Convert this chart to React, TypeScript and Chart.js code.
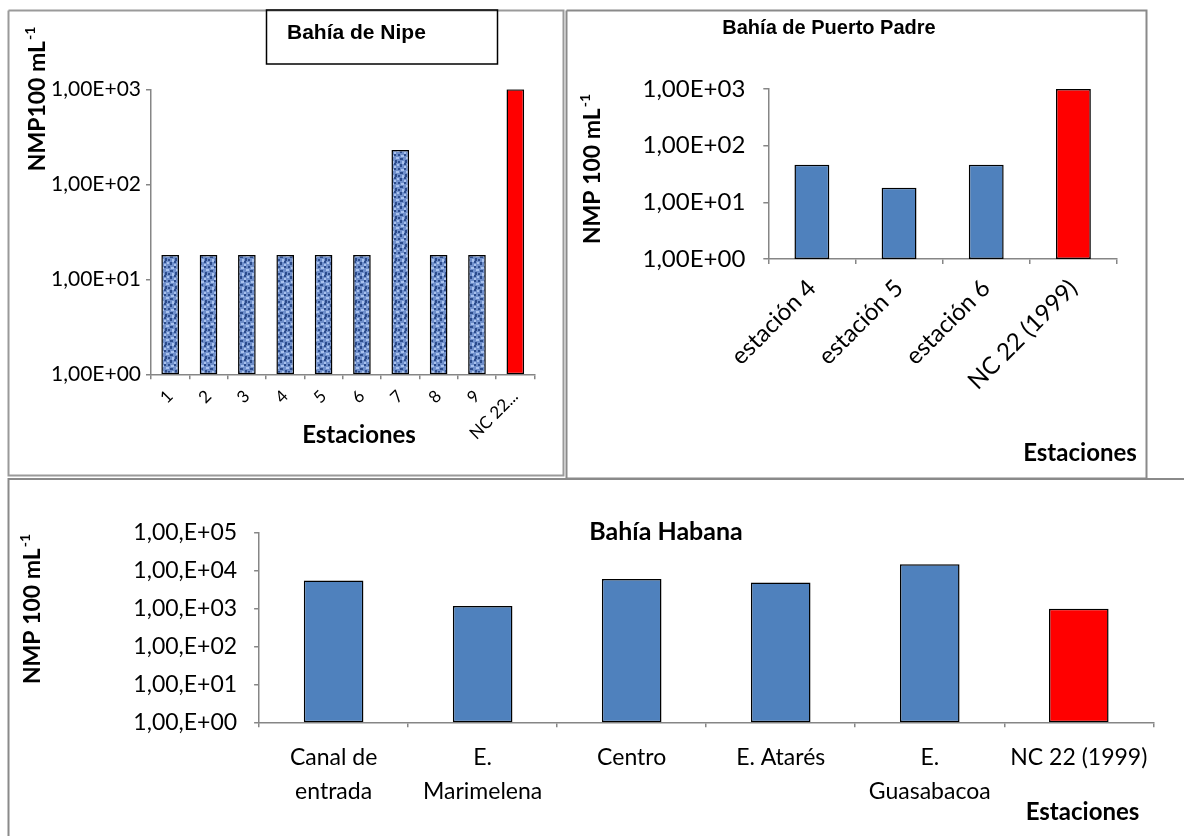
import React, { useEffect, useRef } from "react";
import { Chart, registerables } from "chart.js";

Chart.register(...registerables);

// ---- Bahía de Nipe ----
const nipeStations = ["1", "2", "3", "4", "5", "6", "7", "8", "9", "NC 22 (1999)"];
const nipeValues = [18, 18, 18, 18, 18, 18, 230, 18, 18, 1000];
const nipeTicks = [1, 10, 100, 1000];
const nipeTickLabels = ["1,00E+00", "1,00E+01", "1,00E+02", "1,00E+03"];

// ---- Bahía de Puerto Padre ----
const padreStations = ["estación 4", "estación 5", "estación 6", "NC 22 (1999)"];
const padreValues = [46, 18, 46, 1000];
const padreTicks = [1, 10, 100, 1000];
const padreTickLabels = ["1,00E+00", "1,00E+01", "1,00E+02", "1,00E+03"];

// ---- Bahía Habana ----
const habanaStations: (string | string[])[] = [
  ["Canal de", "entrada"],
  ["E.", "Marimelena"],
  "Centro",
  "E. Atarés",
  ["E.", "Guasabacoa"],
  "NC 22 (1999)",
];
const habanaValues = [5600, 1180, 6100, 4900, 15000, 1000];
const habanaTicks = [1, 10, 100, 1000, 10000, 100000];
const habanaTickLabels = ["1,00,E+00", "1,00,E+01", "1,00,E+02", "1,00,E+03", "1,00,E+04", "1,00,E+05"];

const FONT = "Lato, 'DejaVu Sans', sans-serif";
const TITLE_FONT = "'Liberation Sans', Arial, sans-serif";
const AXIS = "#868686";
const BLUE = "#4f81bd";
const RED = "#ff0000";
const FRAME = "#9a9a9a";

Chart.defaults.font.family = FONT;
Chart.defaults.color = "#000";

const isNorm = (s: string | string[]) => (Array.isArray(s) ? s.join(" ") : s).startsWith("NC");

// Mottled blue fill used for the Nipe stations
function mottledBlue(): CanvasPattern | string {
  const c = document.createElement("canvas");
  c.width = 10;
  c.height = 14;
  const g = c.getContext("2d");
  if (!g) return BLUE;
  g.fillStyle = "#6f8fcb";
  g.fillRect(0, 0, 10, 14);
  const light: [number, number, number, number][] = [
    [1, 1, 3, 2], [6, 3, 3, 2], [2, 7, 2, 3], [7, 10, 2, 2], [4, 12, 2, 2],
  ];
  const dark: [number, number, number, number][] = [
    [4, 0, 2, 2], [0, 4, 3, 2], [5, 6, 2, 3], [0, 10, 2, 3], [8, 7, 2, 2], [4, 9, 2, 2], [8, 0, 2, 2],
  ];
  g.fillStyle = "#a9c2ee";
  light.forEach(([x, y, w, h]) => g.fillRect(x, y, w, h));
  g.fillStyle = "#2c4c8c";
  dark.forEach(([x, y, w, h]) => g.fillRect(x, y, w, h));
  return g.createPattern(c, "repeat") ?? BLUE;
}

type Caption = {
  text: string;
  sup?: string;
  x: number;
  y: number;
  size: number;
  family?: string;
  vertical?: boolean;
  align?: "left" | "center";
};
type Box = { x0: number; y0: number; x1: number; y1: number; color: string; width: number };
type Path = { pts: [number, number][]; color: string; width: number };

function drawCaption(ctx: CanvasRenderingContext2D, c: Caption) {
  const fam = c.family ?? FONT;
  const main = `bold ${c.size}px ${fam}`;
  const supFont = `bold ${Math.round(c.size * 0.6)}px ${fam}`;
  ctx.save();
  ctx.translate(c.x, c.y);
  if (c.vertical) ctx.rotate(-Math.PI / 2);
  ctx.fillStyle = "#000";
  ctx.textBaseline = "middle";
  ctx.textAlign = "left";
  ctx.font = main;
  const w1 = ctx.measureText(c.text).width;
  ctx.font = supFont;
  const w2 = c.sup ? ctx.measureText(c.sup).width + 1 : 0;
  const start = c.align === "left" ? 0 : -(w1 + w2) / 2;
  ctx.font = main;
  ctx.fillText(c.text, start, 0);
  if (c.sup) {
    ctx.font = supFont;
    ctx.fillText(c.sup, start + w1 + 1, -c.size * 0.32);
  }
  ctx.restore();
}

// Panel frame, chart titles and axis titles, given in page coordinates
function panelDecor(origin: [number, number], frames: Path[], captions: Caption[], boxes: Box[] = []) {
  return {
    id: "panelDecor",
    beforeDraw(chart: Chart) {
      const ctx = chart.ctx;
      ctx.save();
      ctx.translate(-origin[0], -origin[1]);
      for (const f of frames) {
        ctx.strokeStyle = f.color;
        ctx.lineWidth = f.width;
        ctx.beginPath();
        f.pts.forEach(([x, y], i) => (i ? ctx.lineTo(x, y) : ctx.moveTo(x, y)));
        ctx.stroke();
      }
      ctx.restore();
    },
    afterDraw(chart: Chart) {
      const ctx = chart.ctx;
      ctx.save();
      ctx.translate(-origin[0], -origin[1]);
      for (const b of boxes) {
        ctx.strokeStyle = b.color;
        ctx.lineWidth = b.width;
        ctx.strokeRect(b.x0, b.y0, b.x1 - b.x0, b.y1 - b.y0);
      }
      captions.forEach((c) => drawCaption(ctx, c));
      ctx.restore();
    },
  };
}

function rect(x0: number, y0: number, x1: number, y1: number): [number, number][] {
  return [[x0, y0], [x1, y0], [x1, y1], [x0, y1], [x0, y0]];
}

function logAxis(ticks: number[], labels: string[], size: number, width: number, padding: number) {
  return {
    type: "logarithmic" as const,
    min: ticks[0],
    max: ticks[ticks.length - 1],
    afterBuildTicks: (s: any) => {
      s.ticks = ticks.map((v) => ({ value: v }));
    },
    afterFit: (s: any) => {
      s.width = width;
    },
    ticks: {
      autoSkip: false,
      padding,
      color: "#000",
      font: { size, family: FONT },
      callback: (v: any) => labels[ticks.indexOf(Number(v))] ?? "",
    },
    grid: { drawOnChartArea: false, drawTicks: true, tickLength: 5, color: AXIS, lineWidth: 1.5 },
    border: { display: true, color: AXIS, width: 1.5 },
  };
}

function stationAxis(height: number, size: number, rotation: number, padding: number, lineHeight = 1.2, callback?: any) {
  return {
    type: "category" as const,
    afterFit: (s: any) => {
      s.height = height;
    },
    ticks: {
      autoSkip: false,
      minRotation: rotation,
      maxRotation: rotation,
      padding,
      color: "#000",
      font: { size, family: FONT, lineHeight },
      ...(callback ? { callback } : {}),
    },
    grid: { offset: true, drawOnChartArea: false, drawTicks: true, tickLength: 5, color: AXIS, lineWidth: 1.5 },
    border: { display: true, color: AXIS, width: 1.5 },
  };
}

function baseOptions(padding: { left: number; top: number; right: number; bottom: number }, scales: any) {
  return {
    animation: false as const,
    responsive: false,
    devicePixelRatio: 1,
    events: [],
    layout: { padding },
    plugins: { legend: { display: false }, tooltip: { enabled: false }, title: { display: false } },
    scales,
  };
}

function nipeChart(canvas: HTMLCanvasElement) {
  const texture = mottledBlue();
  const origin: [number, number] = [0, 0];
  const W = canvas.width;
  const H = canvas.height;
  // plot area: x 151..534.5, y 89.3..374.3 (page)
  const padding = { left: 10, top: 89.3, right: W - 534.5, bottom: H - 374.3 - 92 };
  return new Chart(canvas, {
    type: "bar",
    data: {
      labels: nipeStations,
      datasets: [
        {
          data: nipeValues,
          backgroundColor: nipeStations.map((s) => (isNorm(s) ? RED : texture)) as any,
          borderColor: "#000",
          borderWidth: 1.5,
          borderSkipped: false,
          barPercentage: 0.46,
          categoryPercentage: 1,
        },
      ],
    },
    options: baseOptions(padding, {
      x: stationAxis(92, 17, 45, 7, 1.2, (_v: any, i: number) => {
        const s = nipeStations[i];
        return s.length > 6 ? s.slice(0, 5) + "..." : s;
      }),
      y: logAxis(nipeTicks, nipeTickLabels, 21, 141, 5),
    }) as any,
    plugins: [
      panelDecor(
        origin,
        [{ pts: rect(8.5, 10.5, 563.5, 475.5), color: FRAME, width: 2 }],
        [
          { text: "Bahía de Nipe", x: 287, y: 33.5, size: 21, family: TITLE_FONT, align: "left" },
          { text: "NMP100 mL", sup: "-1", x: 38, y: 99, size: 23, vertical: true },
          { text: "Estaciones", x: 359, y: 435, size: 24 },
        ],
        [{ x0: 266.5, y0: 10, x1: 497.5, y1: 64, color: "#000", width: 1.5 }]
      ) as any,
    ],
  });
}

function padreChart(canvas: HTMLCanvasElement) {
  const origin: [number, number] = [565, 0];
  const W = canvas.width;
  const H = canvas.height;
  // plot area: x 768.3..1117, y 89..259 (page)
  const padding = { left: 10, top: 89, right: W - (1117 - 565), bottom: H - 259 - 180 };
  return new Chart(canvas, {
    type: "bar",
    data: {
      labels: padreStations,
      datasets: [
        {
          data: padreValues,
          backgroundColor: padreStations.map((s) => (isNorm(s) ? RED : BLUE)),
          borderColor: "#000",
          borderWidth: 1.5,
          borderSkipped: false,
          barPercentage: 0.4,
          categoryPercentage: 1,
        },
      ],
    },
    options: baseOptions(padding, {
      x: stationAxis(180, 24, 45, 10),
      y: logAxis(padreTicks, padreTickLabels, 24, 768.3 - 565 - 10, 18),
    }) as any,
    plugins: [
      panelDecor(
        origin,
        [{ pts: rect(566.5, 10.5, 1146.5, 478.5), color: "#8a8a8a", width: 2 }],
        [
          { text: "Bahía de Puerto Padre", x: 829, y: 28.5, size: 20, family: TITLE_FONT },
          { text: "NMP 100 mL", sup: "-1", x: 592.5, y: 169, size: 23, vertical: true },
          { text: "Estaciones", x: 1080, y: 453.5, size: 24 },
        ]
      ) as any,
    ],
  });
}

function habanaChart(canvas: HTMLCanvasElement) {
  const origin: [number, number] = [0, 478];
  const W = canvas.width;
  const H = canvas.height;
  // plot area: x 259.1..1153.3, y 533..722.3 (page)
  const padding = { left: 10, top: 533 - 478, right: W - 1153.3, bottom: H - (722.3 - 478) - 100 };
  return new Chart(canvas, {
    type: "bar",
    data: {
      labels: habanaStations as any,
      datasets: [
        {
          data: habanaValues,
          backgroundColor: habanaStations.map((s) => (isNorm(s) ? RED : BLUE)),
          borderColor: "#000",
          borderWidth: 1.5,
          borderSkipped: false,
          barPercentage: 0.4,
          categoryPercentage: 1,
        },
      ],
    },
    options: baseOptions(padding, {
      x: stationAxis(100, 23, 0, 14, 1.45),
      y: logAxis(habanaTicks, habanaTickLabels, 23, 259.1 - 10, 17),
    }) as any,
    plugins: [
      panelDecor(
        origin,
        [{ pts: [[1184, 479], [8.5, 479], [8.5, 836]], color: "#8a8a8a", width: 2 }],
        [
          { text: "Bahía Habana", x: 666, y: 532, size: 25 },
          { text: "NMP 100 mL", sup: "-1", x: 32.5, y: 609, size: 23, vertical: true },
          { text: "Estaciones", x: 1082.5, y: 812, size: 24 },
        ]
      ) as any,
    ],
  });
}

export default function App() {
  const nipeRef = useRef<HTMLCanvasElement>(null);
  const padreRef = useRef<HTMLCanvasElement>(null);
  const habanaRef = useRef<HTMLCanvasElement>(null);

  useEffect(() => {
    const charts: Chart[] = [];
    if (habanaRef.current) charts.push(habanaChart(habanaRef.current));
    if (padreRef.current) charts.push(padreChart(padreRef.current));
    if (nipeRef.current) charts.push(nipeChart(nipeRef.current));
    return () => charts.forEach((c) => c.destroy());
  }, []);

  const abs = (left: number, top: number): React.CSSProperties => ({ position: "absolute", left, top });

  return (
    <div style={{ position: "absolute", left: 0, top: 0, width: 1184, height: 836, background: "#fff", overflow: "hidden" }}>
      <canvas ref={habanaRef} width={1184} height={358} style={abs(0, 478)} />
      <canvas ref={padreRef} width={619} height={484} style={abs(565, 0)} />
      <canvas ref={nipeRef} width={566} height={480} style={abs(0, 0)} />
    </div>
  );
}
